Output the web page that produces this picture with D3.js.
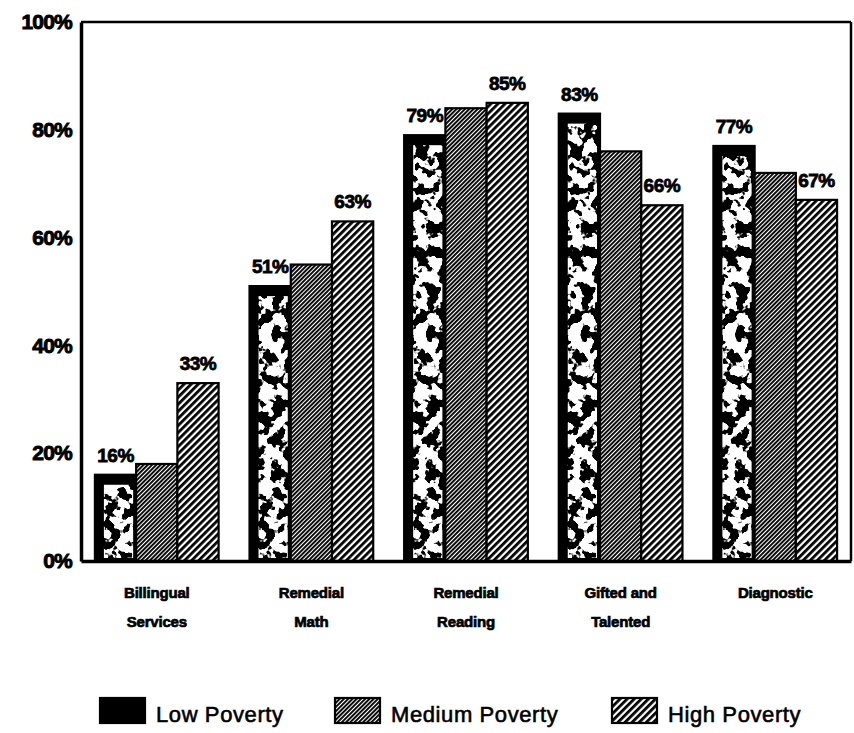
<!DOCTYPE html>
<html>
<head>
<meta charset="utf-8">
<script src="https://cdn.jsdelivr.net/npm/d3@7"></script>
<style>
  html, body { margin: 0; padding: 0; background: #fff; }
  svg { display: block; }
  text { font-family: "Liberation Sans", Arial, sans-serif; fill: #000; }
</style>
</head>
<body>
<script>
// Share of schools offering each service, by poverty level
const categories = [["Billingual", "Services"], ["Remedial", "Math"], ["Remedial", "Reading"], ["Gifted and", "Talented"], ["Diagnostic"]];
const seriesNames = ["Low Poverty", "Medium Poverty", "High Poverty"];
const lowPoverty = [16, 51, 79, 83, 77];
const mediumPoverty = [18, 55, 84, 76, 72];
const highPoverty = [33, 63, 85, 66, 67];
const labelledSeries = ["Low Poverty", "High Poverty"];
const yTicks = [0, 20, 40, 60, 80, 100];

const seriesValues = [lowPoverty, mediumPoverty, highPoverty];
const W = 854, H = 733;
const plot = { left: 81, right: 851, top: 22, bottom: 561 };

const svg = d3.select("body").append("svg").attr("width", W).attr("height", H);
const defs = svg.append("defs");

// Fine hatch (medium) and coarse hatch (high)
function hatch(id, spacing, lineW) {
  const p = defs.append("pattern").attr("id", id)
    .attr("patternUnits", "userSpaceOnUse")
    .attr("width", spacing).attr("height", spacing)
    .attr("patternTransform", "rotate(45)");
  p.append("rect").attr("width", spacing).attr("height", spacing).attr("fill", "#fff");
  p.append("rect").attr("x", 0).attr("y", 0).attr("width", lineW).attr("height", spacing).attr("fill", "#000");
}
hatch("hatchMed", 3, 1.9);
hatch("hatchHigh", 5, 2.8);

// Speckle texture for the low-poverty bars: thresholded noise rendered white
const f = defs.append("filter").attr("id", "speckle")
  .attr("filterUnits", "userSpaceOnUse")
  .attr("x", 0).attr("y", 0).attr("width", W).attr("height", H);
f.append("feTurbulence").attr("type", "fractalNoise")
  .attr("baseFrequency", 0.085).attr("numOctaves", 3).attr("seed", 7).attr("result", "noise");
f.append("feColorMatrix").attr("in", "noise").attr("type", "matrix")
  .attr("values", "0 0 0 0 1  0 0 0 0 1  0 0 0 0 1  -22 0 0 0 11.8").attr("result", "spots");
f.append("feComposite").attr("in", "spots").attr("in2", "SourceGraphic").attr("operator", "in");

const x0 = d3.scaleBand().domain(d3.range(categories.length))
  .range([plot.left, plot.right]).paddingInner(0.2).paddingOuter(0.09);
const x1 = d3.scaleBand().domain(seriesNames).range([0, x0.bandwidth()]);
const y = d3.scaleLinear().domain([0, 100]).range([plot.bottom, plot.top]);

const fills = { "Low Poverty": "#000", "Medium Poverty": "url(#hatchMed)", "High Poverty": "url(#hatchHigh)" };

// Plot frame
svg.append("line").attr("x1", plot.left).attr("x2", plot.right).attr("y1", plot.top).attr("y2", plot.top)
  .attr("stroke", "#000").attr("stroke-width", 2.5);
svg.append("line").attr("x1", plot.right).attr("x2", plot.right).attr("y1", plot.top).attr("y2", plot.bottom)
  .attr("stroke", "#000").attr("stroke-width", 2.5);

// Bars
const rows = [];
categories.forEach((c, i) => seriesNames.forEach((s, j) => rows.push({ i, s, v: seriesValues[j][i] })));

const bars = svg.append("g").selectAll("g").data(rows).join("g")
  .attr("transform", d => `translate(${x0(d.i) + x1(d.s)},0)`);

bars.append("rect")
  .attr("x", 0).attr("y", d => y(d.v))
  .attr("width", x1.bandwidth()).attr("height", d => y(0) - y(d.v))
  .attr("fill", d => fills[d.s]).attr("stroke", "#000").attr("stroke-width", 2.2);

bars.filter(d => d.s === "Low Poverty").append("rect")
  .attr("x", 9).attr("y", d => y(d.v) + 10)
  .attr("width", x1.bandwidth() - 12).attr("height", d => Math.max(0, y(0) - y(d.v) - 13))
  .attr("fill", "#fff").attr("filter", "url(#speckle)");

// Value labels
bars.filter(d => labelledSeries.includes(d.s)).append("text")
  .attr("x", x1.bandwidth() / 2).attr("y", d => y(d.v) - 13)
  .attr("text-anchor", "middle")
  .style("font-size", "19px").style("font-weight", "bold")
  .style("stroke", "#000").style("stroke-width", 0.8).style("letter-spacing", "-0.5px")
  .text(d => d.v + "%");

// Axes
const yAxis = svg.append("g").attr("transform", `translate(${plot.left},0)`)
  .call(d3.axisLeft(y).tickValues(yTicks).tickFormat(d => d + "%").tickSize(0).tickPadding(9));
yAxis.select(".domain").attr("stroke-width", 3.5);
yAxis.selectAll("text").style("font-size", "21px").style("font-weight", "bold")
  .style("stroke", "#000").style("stroke-width", 0.9).style("letter-spacing", "-0.8px");

const xAxis = svg.append("g").attr("transform", `translate(0,${plot.bottom})`)
  .call(d3.axisBottom(x0).tickSize(0).tickFormat(""));
xAxis.select(".domain").attr("stroke-width", 3.5);

const catLabels = svg.append("g").selectAll("text").data(categories).join("text")
  .attr("x", (d, i) => x0(i) + x0.bandwidth() / 2)
  .attr("y", 598)
  .attr("text-anchor", "middle")
  .style("font-size", "15px").style("font-weight", "bold")
  .style("stroke", "#000").style("stroke-width", 0.7).style("letter-spacing", "-0.2px");
catLabels.selectAll("tspan").data(d => d).join("tspan")
  .attr("x", function () { return this.parentNode.getAttribute("x"); })
  .attr("dy", (d, k) => k === 0 ? 0 : 29)
  .text(d => d);

// Legend
const legendX = d3.scaleOrdinal().domain(seriesNames).range([100, 335, 612]);
const legend = svg.append("g").selectAll("g").data(seriesNames).join("g")
  .attr("transform", d => `translate(${legendX(d)},698)`);
legend.append("rect").attr("width", 45).attr("height", 25)
  .attr("fill", d => fills[d]).attr("stroke", "#000").attr("stroke-width", 2.2);
legend.append("text").attr("x", 56).attr("y", 24)
  .style("font-size", "22px").style("stroke", "#000").style("stroke-width", 0.6)
  .style("letter-spacing", "0.6px")
  .text(d => d);
</script>
</body>
</html>
